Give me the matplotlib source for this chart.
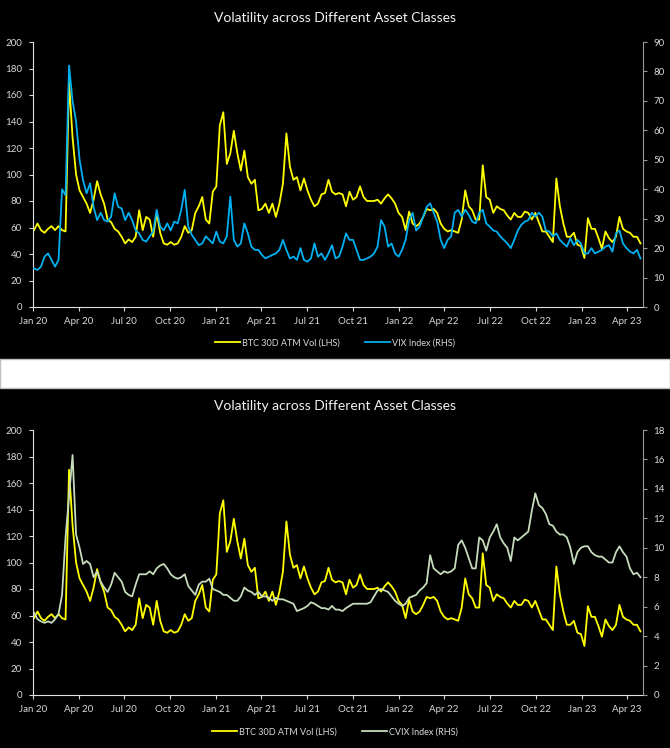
import pandas as pd
import matplotlib.pyplot as plt
import matplotlib.dates as mdates
from matplotlib.patches import Rectangle

plt.rcParams['font.family'] = ['Lato', 'DejaVu Sans']

# weekly readings, Jan 2020 - Apr 2023
dates = pd.date_range('2020-01-03', periods=174, freq='7D')

btc = [58, 63, 58, 56, 59, 61, 58, 61, 58, 57,
       170, 128, 100, 88, 83, 78, 71, 81, 95, 85,
       78, 66, 64, 59, 57, 53, 48, 51, 49, 53,
       73, 58, 68, 66, 53, 71, 56, 48, 47, 49,
       47, 48, 53, 61, 56, 58, 71, 76, 83, 66,
       63, 87, 91, 137, 147, 108, 116, 133, 116, 103,
       118, 98, 93, 96, 73, 74, 78, 71, 78, 68,
       78, 93, 131, 106, 96, 98, 88, 97, 88, 81,
       76, 78, 85, 86, 96, 87, 85, 86, 85, 76,
       87, 81, 83, 91, 83, 80, 80, 80, 81, 78,
       82, 85, 82, 78, 71, 68, 58, 72, 63, 61,
       63, 68, 74, 73, 74, 71, 63, 59, 57, 58,
       57, 56, 66, 88, 76, 73, 66, 66, 107, 83,
       81, 71, 76, 74, 73, 69, 66, 71, 68, 68,
       72, 71, 66, 71, 64, 57, 57, 53, 49, 97,
       76, 63, 53, 53, 56, 47, 46, 37, 67, 59,
       59, 52, 44, 57, 52, 49, 53, 68, 59, 57,
       56, 53, 53, 48]

vix = [13.1, 12.6, 13.7, 17.1, 18.2, 16.0, 13.7, 16.0, 40.0, 38.0,
       82.0, 70.0, 63.0, 50.0, 43.0, 38.6, 42.0, 34.0, 29.5, 32.0,
       29.5, 29.0, 30.7, 38.6, 34.0, 33.5, 29.5, 32.0, 29.5, 26.0,
       25.0, 22.8, 22.2, 24.0, 25.6, 33.0, 27.3, 26.0, 28.4, 26.0,
       29.0, 28.4, 33.0, 39.8, 27.3, 24.5, 22.8, 21.0, 21.6, 24.0,
       22.8, 21.6, 25.6, 22.2, 21.6, 24.0, 37.5, 22.8, 20.5, 21.6,
       28.4, 25.0, 20.5, 19.4, 19.4, 17.7, 16.5, 17.1, 17.7, 18.2,
       19.4, 22.8, 19.4, 16.5, 17.1, 16.0, 20.0, 16.0, 15.4, 16.5,
       21.6, 17.1, 18.2, 16.0, 18.2, 21.0, 16.5, 17.1, 20.5, 25.0,
       22.8, 22.8, 19.4, 16.0, 16.0, 16.5, 17.1, 18.2, 20.5, 29.5,
       27.3, 20.5, 21.6, 18.2, 17.1, 19.4, 22.8, 29.5, 32.0, 26.0,
       27.3, 30.7, 34.0, 35.2, 32.0, 29.0, 22.8, 20.0, 22.8, 24.0,
       32.0, 33.0, 30.7, 33.0, 31.3, 29.0, 28.4, 32.0, 33.0, 28.4,
       27.3, 26.0, 25.6, 24.0, 22.8, 21.6, 20.0, 22.8, 26.0, 27.9,
       29.0, 29.5, 32.0, 30.7, 32.0, 30.7, 26.0, 25.6, 24.0, 25.0,
       22.8, 21.6, 20.5, 23.3, 21.0, 22.8, 21.6, 18.2, 18.2, 20.0,
       18.2, 18.8, 19.4, 20.5, 21.0, 18.8, 25.0, 26.0, 21.6, 20.0,
       18.8, 18.2, 19.4, 16.5]

cvix = [5.6, 5.15, 5.0, 4.9, 5.0, 4.9, 5.15, 5.5, 6.8, 10.7,
        13.5, 16.3, 10.9, 10.0, 8.9, 9.1, 8.9, 8.0, 8.4, 7.7,
        7.3, 7.0, 7.5, 8.3, 8.0, 7.7, 7.0, 6.8, 6.7, 7.5,
        8.2, 8.2, 8.2, 8.4, 8.2, 8.6, 8.8, 8.9, 8.6, 8.2,
        8.0, 7.9, 8.0, 8.2, 7.4, 7.1, 6.8, 7.5, 7.7, 7.7,
        7.9, 7.2, 7.1, 7.0, 6.8, 6.8, 6.6, 6.4, 6.4, 6.7,
        7.3, 7.1, 7.0, 6.8, 7.0, 6.7, 6.7, 6.6, 6.4, 6.6,
        6.5, 6.5, 6.4, 6.3, 6.2, 5.7, 5.8, 5.9, 6.05, 6.3,
        6.2, 6.05, 5.9, 5.9, 5.8, 6.05, 5.8, 5.8, 5.7, 5.9,
        6.05, 6.2, 6.2, 6.2, 6.2, 6.2, 6.3, 6.7, 7.1, 7.2,
        7.1, 7.0, 6.7, 6.4, 6.2, 6.05, 6.2, 6.6, 6.7, 6.8,
        7.1, 7.3, 7.6, 9.5, 8.6, 8.4, 8.2, 8.4, 8.3, 8.4,
        8.6, 10.2, 10.5, 10.0, 9.3, 8.6, 8.6, 10.7, 10.5, 9.8,
        10.7, 11.1, 11.6, 10.7, 10.3, 10.0, 9.1, 10.7, 10.5, 10.7,
        10.9, 11.1, 12.5, 13.7, 12.9, 12.7, 12.3, 11.6, 11.5, 11.1,
        10.9, 10.9, 10.7, 10.0, 8.9, 9.7, 10.0, 10.1, 10.1, 9.7,
        9.5, 9.4, 9.4, 9.2, 9.0, 9.0, 9.7, 10.1, 9.7, 9.4,
        8.6, 8.2, 8.3, 8.0]

title = 'Volatility across Different Asset Classes'
W, H = 670, 748
txt = '#d9d9d9'


def panel(top_px, rhs, rhs_label, rhs_color, rhs_max, rhs_step, leg_px):
    ax = fig.add_axes([33 / W, 1 - (top_px + 265) / H, 609.5 / W, 265 / H])
    ax.set_facecolor('black')
    ax.plot(dates, btc, color='#ffff00', lw=1.3, label='BTC 30D ATM Vol (LHS)')
    ax.set_ylim(0, 200)
    ax.set_yticks(range(0, 201, 20))
    ax.set_xlim(pd.Timestamp('2020-01-01'), pd.Timestamp('2023-05-02'))
    ax.xaxis.set_major_locator(mdates.MonthLocator(bymonth=[1, 4, 7, 10]))
    ax.xaxis.set_major_formatter(mdates.DateFormatter('%b %y'))

    ax2 = ax.twinx()
    ax2.plot(dates, rhs, color=rhs_color, lw=1.3, label=rhs_label)
    ax2.set_ylim(0, rhs_max)
    ax2.set_yticks([v * rhs_step for v in range(int(rhs_max / rhs_step) + 1)])

    for a in (ax, ax2):
        for s in a.spines.values():
            s.set_visible(False)
        a.tick_params(colors=txt, labelsize=7, length=3, width=0.8, pad=5)
    ax.spines['left'].set_visible(True)
    ax.spines['left'].set_color('#e0e0e0')
    ax.spines['bottom'].set_visible(True)
    ax.spines['bottom'].set_color('#e0e0e0')
    ax2.spines['right'].set_visible(True)
    ax2.spines['right'].set_color('#9a9a9a')
    ax2.tick_params(axis='y', colors='#9a9a9a', labelcolor=txt)
    ax.tick_params(axis='x', pad=4)

    fig.text(0.5, 1 - (top_px - 24) / H, title, ha='center', va='center',
             color='#f2f2f2', fontsize=10)
    h1, l1 = ax.get_legend_handles_labels()
    h2, l2 = ax2.get_legend_handles_labels()
    fig.legend(h1 + h2, l1 + l2, loc='center', ncol=2, frameon=False,
               bbox_to_anchor=(0.5, 1 - leg_px / H), fontsize=6.5,
               labelcolor=txt, handlelength=2.8, handletextpad=0.2,
               columnspacing=2.8)


fig = plt.figure(figsize=(6.7, 7.48), dpi=100, facecolor='black')
fig.add_artist(Rectangle((0, 1 - 388 / H), 1, 29 / H, transform=fig.transFigure,
                         facecolor='white', edgecolor='#bfbfbf', lw=1))

panel(42, vix, 'VIX Index (RHS)', '#00b0f0', 90, 10, 343)
panel(430, cvix, 'CVIX Index (RHS)', '#c5dcbc', 18, 2, 732)

plt.savefig('out.png', dpi=100, facecolor='black')
